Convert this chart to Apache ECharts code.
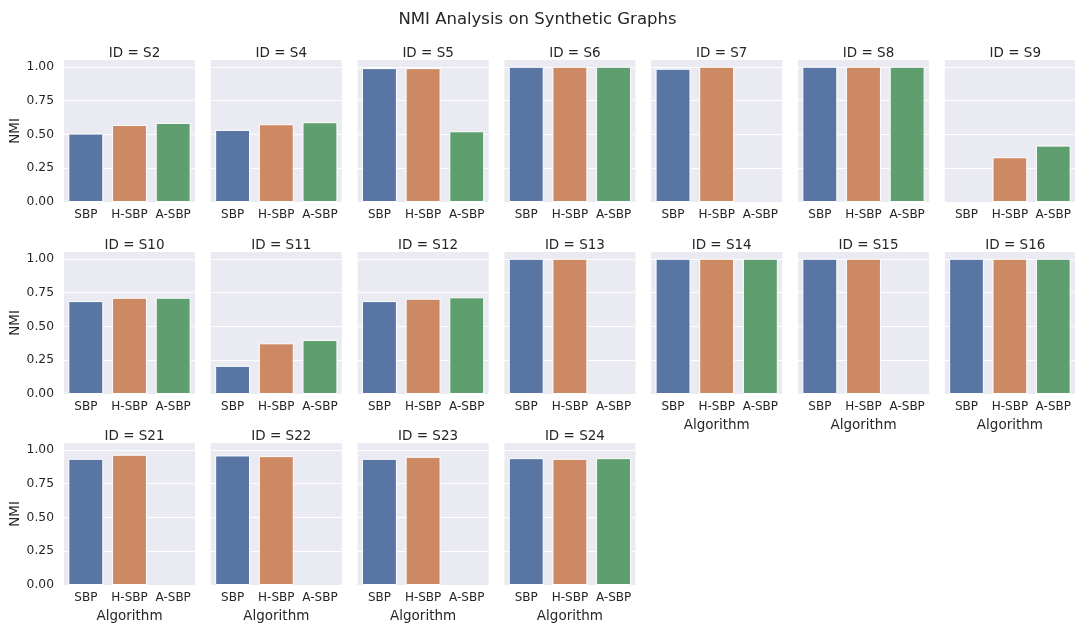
<!DOCTYPE html>
<html>
<head>
<meta charset="utf-8">
<script src="https://cdn.jsdelivr.net/npm/echarts@6/dist/echarts.min.js"></script>
<style>
  html, body { margin: 0; padding: 0; background: #fff; }
  #chart { width: 1075px; height: 624px; }
</style>
</head>
<body>
<div id="chart"></div>
<script>
// Graph IDs, one facet each, laid out 7 per row
const panelIds = ['S2', 'S4', 'S5', 'S6', 'S7', 'S8', 'S9',
                  'S10', 'S11', 'S12', 'S13', 'S14', 'S15', 'S16',
                  'S21', 'S22', 'S23', 'S24'];
const algorithms = ['SBP', 'H-SBP', 'A-SBP'];
// NMI per algorithm, aligned with panelIds (null = no result)
const nmiSBP  = [0.506, 0.533, 0.990, 1.000, 0.985, 1.000, null,
                 0.687, 0.208, 0.687, 1.000, 1.000, 1.000, 1.000,
                 0.933, 0.958, 0.933, 0.938];
const nmiHSBP = [0.570, 0.575, 0.990, 1.000, 1.000, 1.000, 0.331,
                 0.712, 0.375, 0.705, 1.000, 1.000, 1.000, 1.000,
                 0.963, 0.953, 0.948, 0.933];
const nmiASBP = [0.585, 0.590, 0.523, 1.000, null, 1.000, 0.417,
                 0.712, 0.400, 0.715, null, 1.000, null, 1.000,
                 null, null, null, 0.938];
const yTicks = [0, 0.25, 0.5, 0.75, 1.0];

const colors = ['#5975A4', '#CC8963', '#5F9E6E'];
const textColor = '#262626';
const font = 'DejaVu Sans';

const nCols = 7;
const colLeft = 64, colStep = 146.8, panelW = 131;
const rowTops = [60, 252, 443], panelH = 142;

const grids = [], xAxes = [], yAxes = [], series = [];
const titles = [{
  text: 'NMI Analysis on Synthetic Graphs',
  left: 'center', top: 6,
  textStyle: { fontFamily: font, fontSize: 16.5, fontWeight: 'normal', color: textColor }
}];

panelIds.forEach((id, i) => {
  const r = Math.floor(i / nCols), c = i % nCols;
  const left = colLeft + colStep * c, top = rowTops[r];
  // facet is at the bottom of its column if nothing sits below it
  const bottomOfCol = (i + nCols) >= panelIds.length;
  grids.push({
    left: left, top: top, width: panelW, height: panelH,
    show: true, backgroundColor: '#EAEAF2', borderWidth: 0, containLabel: false
  });
  titles.push({
    text: 'ID = ' + id,
    left: left + panelW / 2, top: top - 19, textAlign: 'center',
    textStyle: { fontFamily: font, fontSize: 13.5, fontWeight: 'normal', color: textColor }
  });
  xAxes.push({
    type: 'category', gridIndex: i, data: algorithms,
    axisLine: { show: false }, axisTick: { show: false },
    axisLabel: { color: textColor, fontFamily: font, fontSize: 12, margin: 7, interval: 0 },
    name: bottomOfCol ? 'Algorithm' : '',
    nameLocation: 'middle', nameGap: 24,
    nameTextStyle: { color: textColor, fontFamily: font, fontSize: 13.5 }
  });
  yAxes.push({
    type: 'value', gridIndex: i, min: 0, max: 1.05, interval: 0.25,
    axisLine: { show: false }, axisTick: { show: false },
    splitLine: { show: true, showMinLine: false, showMaxLine: false,
                 lineStyle: { color: '#ffffff', width: 1.2 } },
    axisLabel: {
      show: c === 0, color: textColor, fontFamily: font, fontSize: 12.3, margin: 10,
      showMaxLabel: false,
      formatter: v => yTicks.some(t => Math.abs(t - v) < 1e-6) ? v.toFixed(2) : ''
    },
    name: c === 0 ? 'NMI' : '',
    nameLocation: 'middle', nameGap: 41, nameRotate: 90,
    nameTextStyle: { color: textColor, fontFamily: font, fontSize: 13.5 }
  });
  const vals = [nmiSBP[i], nmiHSBP[i], nmiASBP[i]];
  series.push({
    type: 'bar', xAxisIndex: i, yAxisIndex: i,
    barWidth: '80%',
    data: vals.map((v, k) => ({
      value: v,
      itemStyle: { color: colors[k], borderColor: '#ffffff', borderWidth: 1 }
    })),
    silent: true, animation: false
  });
});

const chart = echarts.init(document.getElementById('chart'), null, { renderer: 'canvas' });
chart.setOption({
  backgroundColor: '#ffffff',
  animation: false,
  title: titles,
  grid: grids,
  xAxis: xAxes,
  yAxis: yAxes,
  series: series
});
</script>
</body>
</html>
